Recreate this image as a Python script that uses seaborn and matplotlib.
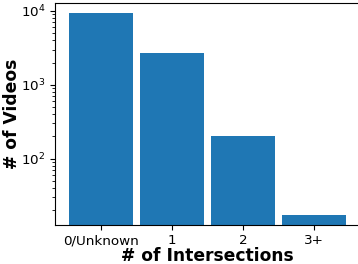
import matplotlib
matplotlib.use('Agg')
import pandas as pd
import matplotlib.pyplot as plt
import seaborn as sns

# number of intersections per video
categories = ['0/Unknown', '1', '2', '3+']
videos = [9300, 2650, 200, 17]

df = pd.DataFrame({'intersections': categories, 'videos': videos})

fig = plt.figure(figsize=(3.58, 2.64), dpi=100)
ax = fig.add_axes([0.1536, 0.149, 0.851, 0.8396])

sns.barplot(data=df, x='intersections', y='videos', color='#1f77b4',
            saturation=1, width=0.9, ax=ax)
ax.set_yscale('log')
ax.set_xlim(-0.645, 3.645)
ax.set_ylim(12.7, 12800)

ax.set_xlabel('# of Intersections', fontsize=12.3, fontweight='bold', labelpad=0)
ax.set_ylabel('# of Videos', fontsize=12.3, fontweight='bold')
ax.yaxis.set_label_coords(-0.11, 0.5)
ax.tick_params(axis='both', labelsize=9.7)

fig.savefig('out.png', dpi=100)
